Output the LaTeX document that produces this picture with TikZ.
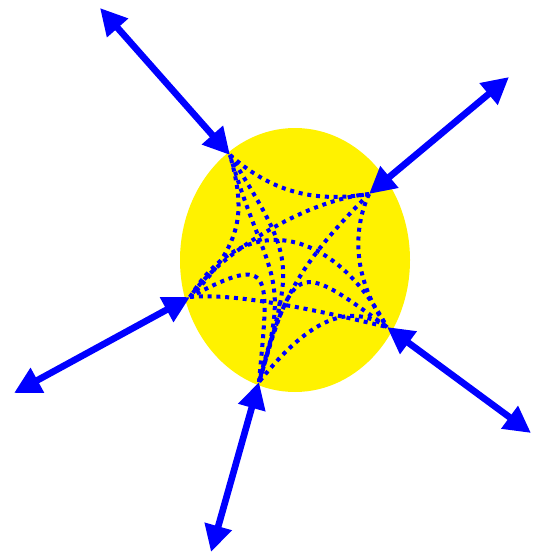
\documentclass[tikz,border=0pt]{standalone}
\usepackage{tikz}
\usetikzlibrary{arrows.meta, shapes.geometric, calc}
\tikzset{
    disc/.style={ellipse, fill=yellow, minimum width=172.5pt, minimum height=198pt, inner sep=0pt},
    endarrow/.style={{Triangle[length=20pt, width=20pt]}-{Triangle[length=20pt, width=20pt]}, draw=blue, line width=5pt},
    geoline/.style={draw=blue, line width=3pt, dash pattern=on 3pt off 3.6pt}
}

\begin{document}
\begin{tikzpicture}[x=0.75pt, y=-0.75pt]
\useasboundingbox (0,0) rectangle (541,553);

\node[disc] (disc) at (295,260) {};
\coordinate (O) at (295,260);

\coordinate (A) at (230,155);
\coordinate (B) at (369,194);
\coordinate (C) at (387,327);
\coordinate (D) at (259,382);
\coordinate (E) at (190,297);

\coordinate (Aout) at (100,8);
\coordinate (Bout) at (509,77);
\coordinate (Cout) at (531,433);
\coordinate (Dout) at (211,552);
\coordinate (Eout) at (14,393);

\draw[geoline] (A) .. controls +(45,40) and +(-50,8) .. (B);
\draw[geoline] (B) .. controls +(-18,40) and +(-32,-45) .. (C);
\draw[geoline] (C) .. controls +(-45,-30) and +(40,-50) .. (D);
\draw[geoline] (E) .. controls +(55,-55) and +(15,55) .. (A);
\draw[geoline] (B) .. controls +(-60,5) and +(30,-45) .. (E);
\draw[geoline] (E) .. controls +(50,-5) and +(-50,-12) .. (C);
\draw[geoline] (E) .. controls (242,212) and (330,222) .. (C);
\draw[geoline] (A) .. controls (O) .. (D);
\draw[geoline] (A) .. controls (265,275) and (294,272) .. (D);
\draw[geoline] (B) .. controls (299,264) and (279,302) .. (D);
\draw[geoline] (D) .. controls (O) .. (C);
\draw[geoline] (D) .. controls (269,272) and (275,252) .. (E);

\foreach \p in {A,B,C,D,E}
    \draw[endarrow] (\p) -- (\p out);

\end{tikzpicture}
\end{document}
